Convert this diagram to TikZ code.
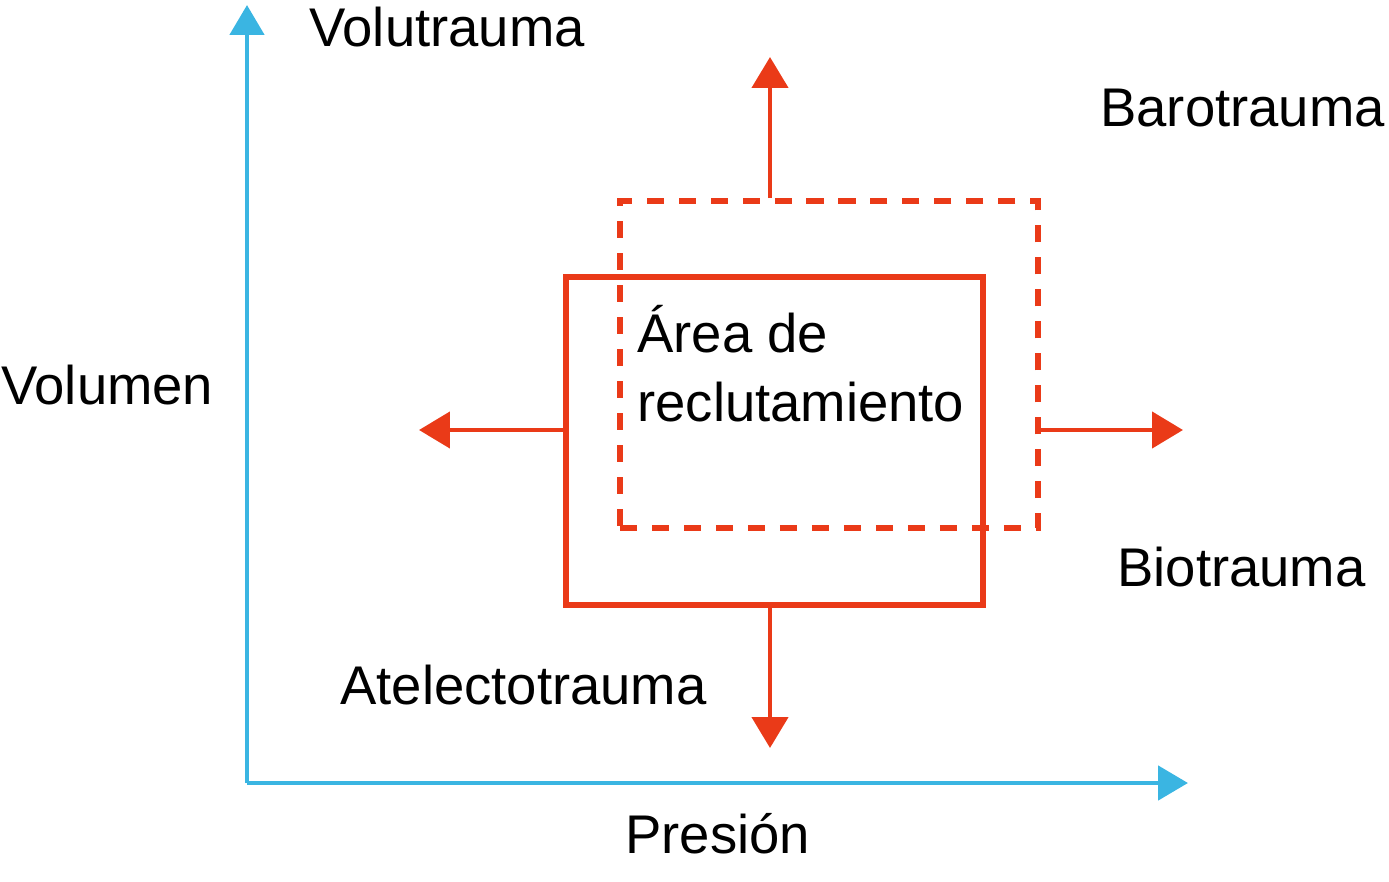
\documentclass[tikz,border=0pt]{standalone}
\usepackage{fontspec}
\setmainfont{Liberation Sans}
\usepackage{tikz}
\usetikzlibrary{positioning}
\usetikzlibrary{arrows.meta}
\usepackage{xcolor}
\definecolor{axisblue}{RGB}{58,181,226}
\definecolor{zonered}{RGB}{234,58,24}

\begin{document}
\begin{tikzpicture}[x=0.02cm, y=-0.02cm,
  lbl/.style={anchor=base west, inner sep=0pt, font=\fontsize{31}{39}\selectfont},
  axis/.style={draw=axisblue, line width=2.8pt, -{Triangle[length=0.6cm, width=0.68cm]}},
  push/.style={draw=zonered, line width=2.6pt, -{Triangle[length=0.62cm, width=0.72cm]}},
  zone/.style={draw=zonered, line width=3.4pt, inner sep=0pt}]
  \useasboundingbox (0,0) rectangle (1389,882);
  % axes
  \coordinate (o) at (247,783);
  \coordinate (ytip) at (247,5);
  \coordinate (xtip) at (1188,783);
  \draw[axis] (o) -- (ytip);
  \draw[axis] (o) -- (xtip);
  % boxes
  \node (solid) [zone, minimum width=8.34cm, minimum height=6.56cm] at (774.5,441) {};
  \node (dash) [zone, dash pattern=on 9.7pt off 8.5pt, minimum width=8.36cm, minimum height=6.54cm] at (829,364.5) {};
  % arrows
  \coordinate (up) at (770,57);
  \coordinate (down) at (770,748);
  \coordinate (left) at (419,430);
  \coordinate (right) at (1183,430);
  \draw[push] (dash.north -| up) -- (up);
  \draw[push] (solid.south -| down) -- (down);
  \draw[push] (solid.west |- left) -- (left);
  \draw[push] (dash.east |- right) -- (right);
  % labels
  \node (vol) [lbl] at (309,47) {Volutrauma};
  \node (baro) [lbl] at (1100,127) {Barotrauma};
  \node (volumen) [lbl] at (1,404) {Volumen};
  \node (area) [lbl, align=left] at (637,421) {Área de\\reclutamiento};
  \node (bio) [lbl] at (1117,586) {Biotrauma};
  \node (atel) [lbl] at (340,704) {Atelectotrauma};
  \node (pres) [lbl] at (625,853) {Presión};
\end{tikzpicture}
\end{document}
